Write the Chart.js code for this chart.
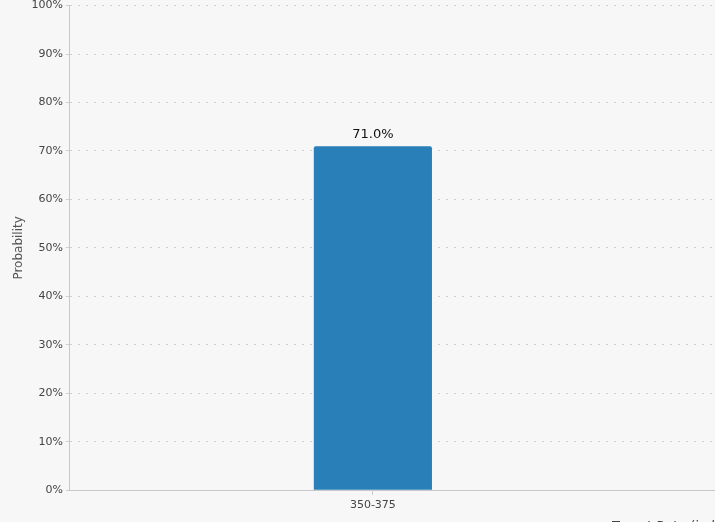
<!DOCTYPE html>
<html>
<head>
<meta charset="utf-8">
<script src="https://cdn.jsdelivr.net/npm/chart.js@4/dist/chart.umd.min.js"></script>
<style>
  html, body { margin: 0; padding: 0; background: #f7f7f7; overflow: hidden; }
  #wrap { width: 1282px; height: 542px; margin-top: -4px; position: relative; }
</style>
</head>
<body>
<div id="wrap"><canvas id="rateChart"></canvas></div>
<script>
// target rate buckets (second one is outside the visible window)
var rateLabels = ['350-375', '375-400'];
var probabilities = [71.0, 29.0];
var yTicks = [0, 10, 20, 30, 40, 50, 60, 70, 80, 90, 100];

// draws "71.0%" above each bar
var valueLabels = {
    id: 'valueLabels',
    afterDatasetsDraw: function (chart) {
        var ctx = chart.ctx;
        var meta = chart.getDatasetMeta(0);
        ctx.save();
        ctx.font = '13px "DejaVu Sans", sans-serif';
        ctx.fillStyle = '#111';
        ctx.textAlign = 'center';
        ctx.textBaseline = 'bottom';
        meta.data.forEach(function (bar, i) {
            ctx.fillText(probabilities[i].toFixed(1) + '%', bar.x, bar.y - 5);
        });
        ctx.restore();
    }
};

var ctx = document.getElementById('rateChart').getContext('2d');
new Chart(ctx, {
    type: 'bar',
    data: {
        labels: rateLabels,
        datasets: [{
            data: probabilities,
            backgroundColor: '#2980b9',
            borderRadius: { topLeft: 2, topRight: 2 },
            borderSkipped: 'bottom',
            barPercentage: 0.195,
            categoryPercentage: 1
        }]
    },
    options: {
        responsive: true,
        maintainAspectRatio: false,
        animation: false,
        layout: { padding: { top: 0, left: 8, right: 0, bottom: 0 } },
        plugins: { legend: { display: false }, tooltip: { enabled: false } },
        scales: {
            x: {
                grid: { drawOnChartArea: false, offset: false, color: '#ccc', tickLength: 5 },
                border: { color: '#c8c8c8' },
                ticks: { color: '#444', font: { size: 11, family: '"DejaVu Sans", sans-serif' }, padding: 3 },
                title: {
                    display: true,
                    text: 'Target Rate (in bps)',
                    color: '#444',
                    font: { size: 13, family: '"DejaVu Sans", sans-serif' },
                    padding: { top: 4 }
                }
            },
            y: {
                min: 0,
                max: 100,
                afterBuildTicks: function (scale) {
                    scale.ticks = yTicks.map(function (v) { return { value: v }; });
                },
                grid: { color: '#cfcfcf', lineWidth: 1, tickLength: 4 },
                border: { color: '#c8c8c8', dash: [2, 6] },
                ticks: {
                    color: '#444',
                    font: { size: 11, family: '"DejaVu Sans", sans-serif' },
                    padding: 3,
                    callback: function (v) { return v + '%'; }
                },
                title: {
                    display: true,
                    text: 'Probability',
                    color: '#555',
                    font: { size: 12, family: '"DejaVu Sans", sans-serif' },
                    padding: { bottom: 2 }
                }
            }
        }
    },
    plugins: [valueLabels]
});
</script>
</body>
</html>
